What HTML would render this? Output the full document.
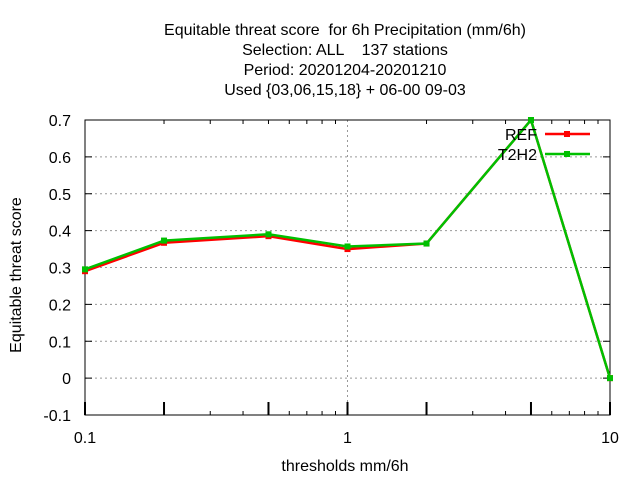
<!DOCTYPE html>
<html><head><meta charset="utf-8"><style>
body{margin:0;background:#fff}
svg text{font-family:"Liberation Sans",sans-serif;font-size:16px;fill:#000;white-space:pre}
</style></head><body>
<svg width="640" height="480" xml:space="preserve">
<g id="titles">
<text x="345" y="35" text-anchor="middle">Equitable threat score  for 6h Precipitation (mm/6h)</text>
<text x="345" y="55" text-anchor="middle">Selection: ALL    137 stations</text>
<text x="345" y="75" text-anchor="middle">Period: 20201204-20201210</text>
<text x="345" y="95" text-anchor="middle">Used {03,06,15,18} + 06-00 09-03</text>
</g>
<text x="345" y="471" text-anchor="middle">thresholds mm/6h</text>
<text transform="translate(21,275) rotate(-90)" text-anchor="middle">Equitable threat score</text>
<g id="grid"></g><g id="axes"></g><g id="series"></g><g id="legend"></g>
</svg>
<script>
const categories=[0.1,0.2,0.5,1,2,5,10];
const refValues=[0.29,0.367,0.385,0.35,0.365,0.70,0.0];
const t2h2Values=[0.295,0.373,0.39,0.357,0.365,0.70,0.0];
const yTicks=[-0.1,0,0.1,0.2,0.3,0.4,0.5,0.6,0.7];
const xTickLabels=[0.1,1,10];
const seriesNames=["REF","T2H2"];
const NS="http://www.w3.org/2000/svg";
const L=85,R=610,T=120,B=415;
function xs(v){return L+(Math.log10(v)+1)/2*(R-L);}
function ys(v){return B-(v+0.1)/0.8*(B-T);}
function mk(tag,a,p){const e=document.createElementNS(NS,tag);for(const k in a)e.setAttribute(k,a[k]);p.appendChild(e);return e;}
const grid=document.getElementById('grid'),axes=document.getElementById('axes');
yTicks.forEach(v=>{const y=ys(v);
 if(v>-0.1&&v<0.7){const g=mk('line',{x1:L,x2:R,y1:y,y2:y,stroke:'#999','stroke-dasharray':'2,3','stroke-width':1},grid);
 }
 const t=mk('line',{x1:L,x2:L+7,y1:y,y2:y,stroke:'#000'},axes);
 
 mk('line',{x1:R-7,x2:R,y1:y,y2:y,stroke:'#000'},axes);
 const tx=mk('text',{x:L-14,y:y+6,'text-anchor':'end'},axes);tx.textContent=(Math.round(v*10)/10).toString();
 
});
{const x=xs(1);const g=mk('line',{x1:x,x2:x,y1:T,y2:B,stroke:'#999','stroke-dasharray':'2,3'},grid);
 }
for(let d=0.1;d<10;d*=10){for(let m=2;m<=9;m++){const x=xs(d*m);
 const big=(m==2||m==5);
 mk('line',{x1:x,x2:x,y1:big?B-13:B-4,y2:B,stroke:'#000','stroke-width':big?2:1},axes);
 mk('line',{x1:x,x2:x,y1:T,y2:T+4,stroke:'#000'},axes);}}
xTickLabels.forEach(v=>{const x=xs(v);
 mk('line',{x1:x,x2:x,y1:B-13,y2:B,stroke:'#000','stroke-width':2},axes);
 const t=mk('text',{x:x,y:B+28,'text-anchor':'middle'},axes);t.textContent=String(v);
 });
const fr=mk('rect',{x:L,y:T,width:R-L,height:B-T,fill:'none',stroke:'#000'},axes);

const ser=document.getElementById('series');
[[refValues,'#ff0000'],[t2h2Values,'#00c000']].forEach(([vals,c],i)=>{
 const pts=categories.map((v,j)=>xs(v)+','+ys(vals[j])).join(' ');
 const pl=mk('polyline',{points:pts,fill:'none',stroke:c,'stroke-width':2.5},ser);
 
 
 categories.forEach((v,j)=>{const r=mk('rect',{x:xs(v)-3,y:ys(vals[j])-3,width:6,height:6,fill:c},ser);
  
  });
 const lg=document.getElementById('legend');
 const ly=134+i*20;
 const lt=mk('text',{x:537,y:ly+6,'text-anchor':'end'},lg);lt.textContent=seriesNames[i];
 
 const ll=mk('line',{x1:545,x2:590,y1:ly,y2:ly,stroke:c,'stroke-width':2.5},lg);
 
 mk('rect',{x:564,y:ly-3,width:6,height:6,fill:c},lg);
});
</script>
</body></html>
